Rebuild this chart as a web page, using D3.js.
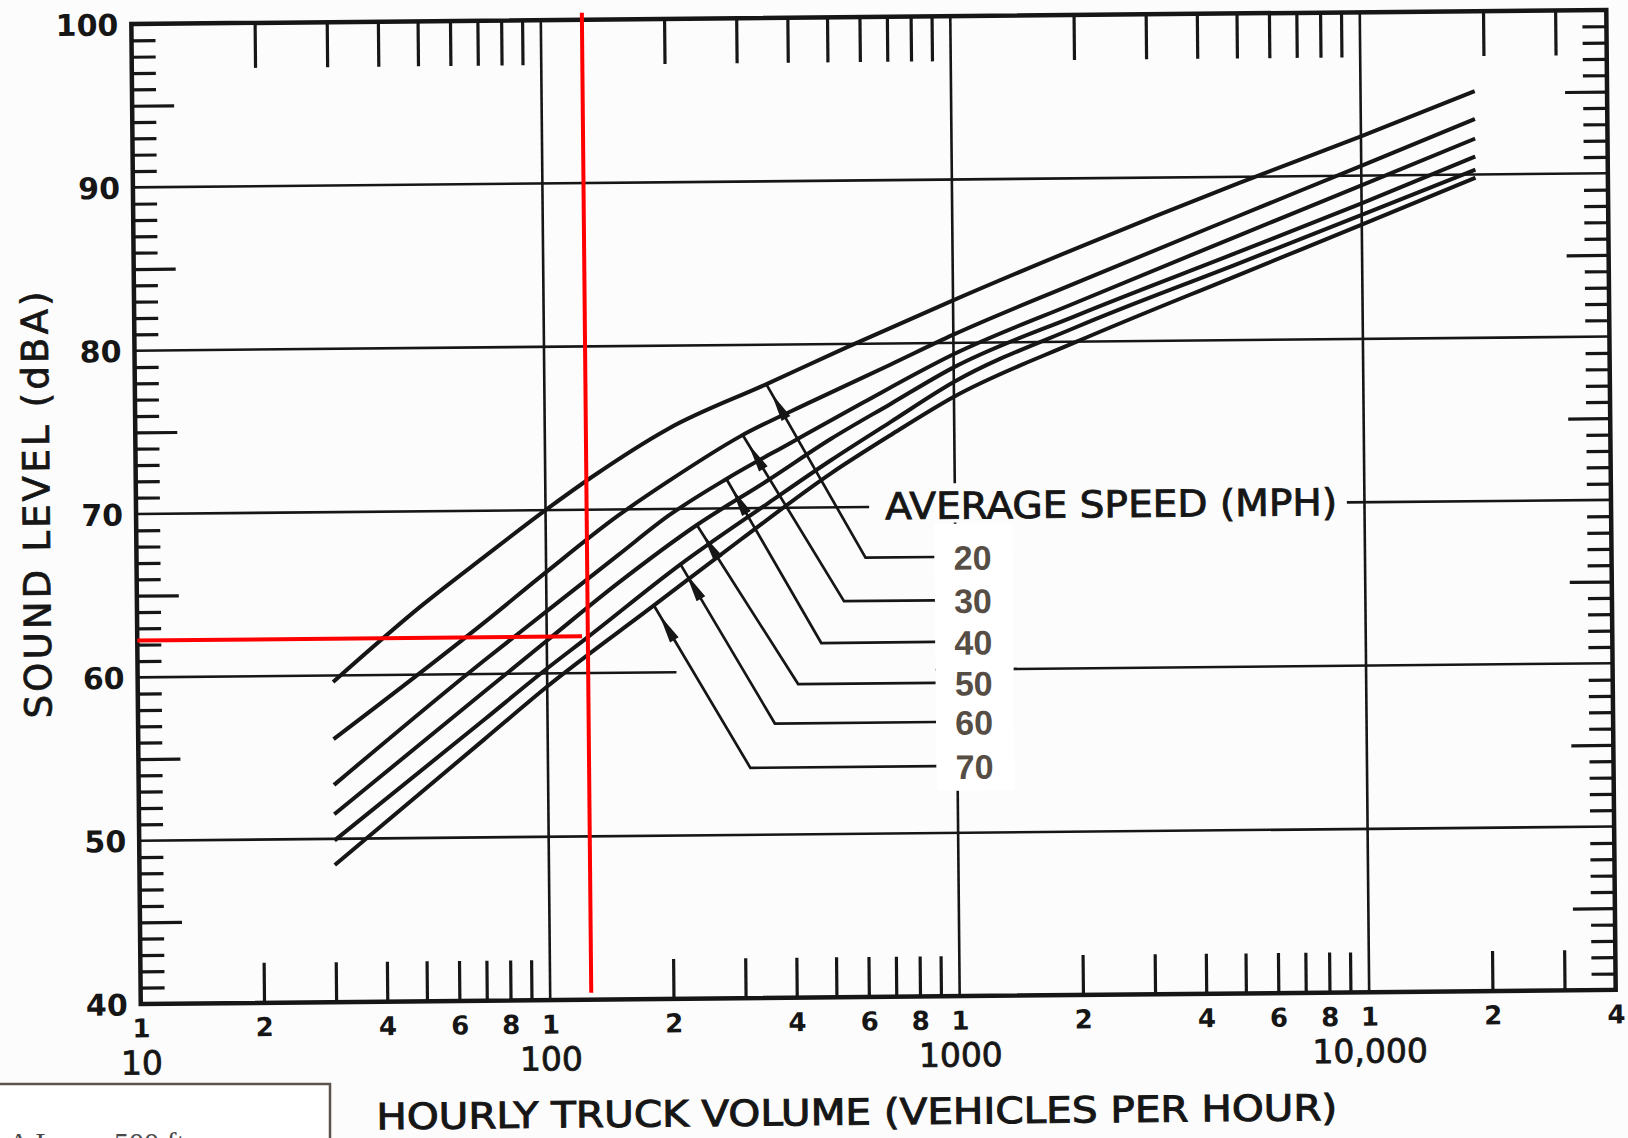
<!DOCTYPE html>
<html>
<head>
<meta charset="utf-8">
<script src="https://cdn.jsdelivr.net/npm/d3@7"></script>
<style>
  html, body { margin: 0; padding: 0; background: #fcfcfc; }
  svg { display: block; }
</style>
</head>
<body>
<svg id="chart" width="1628" height="1138"></svg>
<script>
// ---- data -----------------------------------------------------------------
// Average speed (mph) for each curve
const speeds = [20, 30, 40, 50, 60, 70];

// Sound level (dBA): [hourly truck volume, level]
const curve20 = [[30,59.6],[50,64.3],[70,67.1],[100,70.0],[130,72.0],[200,74.9],[350,77.6],[550,79.8],[1000,82.6],[2000,85.7],[5000,89.6],[10000,92.4],[19000,95.1]];
const curve30 = [[30,56.1],[70,63.1],[100,66.2],[150,69.6],[200,71.7],[300,74.4],[450,76.5],[700,78.7],[1000,80.5],[2000,83.6],[5000,87.6],[10000,90.6],[19000,93.4]];
const curve40 = [[30,53.3],[70,60.8],[100,63.8],[150,67.2],[200,69.6],[277,71.8],[400,74.0],[600,76.4],[1000,79.3],[2000,82.4],[5000,86.4],[10000,89.4],[19000,92.2]];
const curve50 = [[30,51.5],[70,58.9],[100,62.0],[150,65.5],[234,69.0],[350,71.7],[500,74.2],[700,76.3],[1000,78.5],[2000,81.6],[5000,85.4],[10000,88.3],[19000,91.1]];
const curve60 = [[30,49.9],[70,57.2],[100,60.3],[126,62.2],[213,66.6],[350,70.3],[500,72.9],[700,75.2],[1000,77.6],[2000,80.9],[5000,84.7],[10000,87.6],[19000,90.3]];
const curve70 = [[30,48.4],[70,56.0],[100,59.2],[183,64.1],[300,68.1],[500,72.1],[700,74.4],[1000,76.7],[2000,80.0],[5000,84.0],[10000,87.0],[19000,89.8]];
const curves = [curve20, curve30, curve40, curve50, curve60, curve70];

// Leader lines from each curve to its speed label: [volume, level]
const leaderStart  = [[348,77.6],[304,74.5],[277,71.8],[234,69.0],[213,66.6],[183,64.1]];
const leaderCorner = [[603,66.9],[533,64.25],[468,61.7],[410,59.2],[359,56.8],[312,54.1]];
const leaderEndVolume = 889;

// Axis ticks
const minorVolumes = [20,30,40,50,60,70,80,90, 200,300,400,500,600,700,800,900,
                      2000,3000,4000,5000,6000,7000,8000,9000, 20000,30000];
const decadeVolumes = [100, 1000, 10000];
const digitVolumes = [10,20,40,60,80, 100,200,400,600,800, 1000,2000,4000,6000,8000, 10000,20000,40000];
const digitLabels  = ["1","2","4","6","8","1","2","4","6","8","1","2","4","6","8","1","2","4"];
const decadeLabelVolumes = [10, 100, 1000, 10000];
const decadeLabels = ["10", "100", "1000", "10,000"];
const levelLabels = [40, 50, 60, 70, 80, 90, 100];
const levelGrid = [50, 60, 70, 80, 90];
const levelMinor = d3.range(41, 100).filter(v => v % 5 !== 0);
const levelMid = [45, 55, 65, 75, 85, 95];

// Gridlines that are interrupted around the legend
const grid60Segments = [[10, 207], [889, 40000]];
const grid70Segments = [[10, 617], [9060, 40000]];
const grid1000Segments = [[40, 69.0], [71.4, 100]];

// Reading marked in red
const readingVolume = 126;
const readingLevel = 62.25;
const readingEndVolume = 122;

// ---- drawing --------------------------------------------------------------
const W = 1628, H = 1138;
const ink = "#161616";
const fontNum = "'DejaVu Sans', 'Liberation Sans', sans-serif";

const x = d3.scaleLog().domain([10, 40000]).range([136, 1611]);
const y = d3.scaleLinear().domain([40, 100]).range([997, 17]);

const svg = d3.select("#chart");
svg.append("rect").attr("width", W).attr("height", H).attr("fill", "#fcfcfc");

// the whole sheet sits very slightly turned
const g = svg.append("g").attr("transform", "rotate(-0.55 870 505)");

// horizontal gridlines
const hSegs = [];
levelGrid.forEach(v => {
  const segs = v === 60 ? grid60Segments : v === 70 ? grid70Segments : [[10, 40000]];
  segs.forEach(s => hSegs.push({ level: v, from: s[0], to: s[1] }));
});
g.append("g").selectAll("line").data(hSegs).join("line")
  .attr("x1", d => x(d.from)).attr("x2", d => x(d.to))
  .attr("y1", d => y(d.level)).attr("y2", d => y(d.level))
  .attr("stroke", ink).attr("stroke-width", 2.6);

// vertical gridlines at decades
const vSegs = [];
decadeVolumes.forEach(v => {
  const segs = v === 1000 ? grid1000Segments : [[40, 100]];
  segs.forEach(s => vSegs.push({ vol: v, from: s[0], to: s[1] }));
});
g.append("g").selectAll("line").data(vSegs).join("line")
  .attr("x1", d => x(d.vol)).attr("x2", d => x(d.vol))
  .attr("y1", d => y(d.from)).attr("y2", d => y(d.to))
  .attr("stroke", ink).attr("stroke-width", 2.6);

// tick marks on all four sides
function styleTicks(sel) {
  sel.select(".domain").remove();
  sel.selectAll(".tick line").attr("stroke", ink).attr("stroke-width", 3.2);
  sel.selectAll(".tick text").remove();
}
g.append("g").attr("transform", `translate(0,${y(40)})`)
  .call(d3.axisBottom(x).tickValues(minorVolumes).tickSize(-40).tickSizeOuter(0).tickFormat(""))
  .call(styleTicks);
g.append("g").attr("transform", `translate(0,${y(100)})`)
  .call(d3.axisTop(x).tickValues(minorVolumes).tickSize(-45).tickSizeOuter(0).tickFormat(""))
  .call(styleTicks);
g.append("g").attr("transform", `translate(${x(10)},0)`)
  .call(d3.axisLeft(y).tickValues(levelMinor).tickSize(-24).tickSizeOuter(0).tickFormat(""))
  .call(styleTicks);
g.append("g").attr("transform", `translate(${x(10)},0)`)
  .call(d3.axisLeft(y).tickValues(levelMid).tickSize(-42).tickSizeOuter(0).tickFormat(""))
  .call(styleTicks);
g.append("g").attr("transform", `translate(${x(40000)},0)`)
  .call(d3.axisRight(y).tickValues(levelMinor).tickSize(-24).tickSizeOuter(0).tickFormat(""))
  .call(styleTicks);
g.append("g").attr("transform", `translate(${x(40000)},0)`)
  .call(d3.axisRight(y).tickValues(levelMid).tickSize(-42).tickSizeOuter(0).tickFormat(""))
  .call(styleTicks);

// frame
g.append("rect")
  .attr("x", x(10)).attr("y", y(100))
  .attr("width", x(40000) - x(10)).attr("height", y(40) - y(100))
  .attr("fill", "none").attr("stroke", ink).attr("stroke-width", 4.5);

// tick labels
function styleLabels(sel, size, weight) {
  sel.select(".domain").remove();
  sel.selectAll(".tick line").remove();
  sel.selectAll(".tick text")
    .attr("fill", ink)
    .attr("font-family", fontNum)
    .attr("font-weight", weight)
    .attr("font-size", size);
}
const digitMap = new Map(digitVolumes.map((v, i) => [v, digitLabels[i]]));
const decadeMap = new Map(decadeLabelVolumes.map((v, i) => [v, decadeLabels[i]]));

g.append("g").attr("transform", `translate(${x(10)},0)`)
  .call(d3.axisLeft(y).tickValues(levelLabels).tickSize(0).tickPadding(13).tickFormat(d => d))
  .call(sel => styleLabels(sel, 30, "bold"))
  .call(sel => sel.selectAll(".tick text").attr("dy", "0.36em"));

g.append("g").attr("transform", `translate(0,${y(40)})`)
  .call(d3.axisBottom(x).tickValues(digitVolumes).tickSize(0).tickPadding(15).tickFormat(d => digitMap.get(d)))
  .call(sel => styleLabels(sel, 26, "bold"));

g.append("g").attr("transform", `translate(0,${y(40)})`)
  .call(d3.axisBottom(x).tickValues(decadeLabelVolumes).tickSize(0).tickPadding(47).tickFormat(d => decadeMap.get(d)))
  .call(sel => styleLabels(sel, 33, "normal"))
  .call(sel => sel.selectAll(".tick text").attr("stroke", ink).attr("stroke-width", 0.8));

// speed curves
const line = d3.line().x(d => x(d[0])).y(d => y(d[1])).curve(d3.curveMonotoneX);
g.append("g").selectAll("path").data(curves).join("path")
  .attr("d", line)
  .attr("fill", "none").attr("stroke", ink)
  .attr("stroke-width", 4).attr("stroke-linejoin", "round");

// leader lines with arrowheads
const leaders = speeds.map((s, i) => ({
  speed: s,
  p0: [x(leaderStart[i][0]), y(leaderStart[i][1])],
  p1: [x(leaderCorner[i][0]), y(leaderCorner[i][1])],
  p2: [x(leaderEndVolume), y(leaderCorner[i][1])]
}));
const lg = g.append("g");
lg.selectAll("path").data(leaders).join("path")
  .attr("d", d => `M${d.p0[0]},${d.p0[1]}L${d.p1[0]},${d.p1[1]}L${d.p2[0]},${d.p2[1]}`)
  .attr("fill", "none").attr("stroke", ink).attr("stroke-width", 2.7)
  .attr("stroke-linejoin", "miter");
lg.selectAll("polygon").data(leaders).join("polygon")
  .attr("points", d => {
    const dx = d.p1[0] - d.p0[0], dy = d.p1[1] - d.p0[1];
    const len = Math.hypot(dx, dy), ux = dx / len, uy = dy / len;
    const tip = [d.p0[0] + ux * 11, d.p0[1] + uy * 11];
    const base = [d.p0[0] + ux * 40, d.p0[1] + uy * 40];
    const hw = 5;
    return [tip, [base[0] - uy * hw, base[1] + ux * hw], [base[0] + uy * hw, base[1] - ux * hw]]
      .map(p => p.join(",")).join(" ");
  })
  .attr("fill", ink);

// legend title on the 70 dBA line
g.append("text")
  .attr("x", x(675)).attr("y", y(70))
  .attr("dominant-baseline", "central")
  .attr("font-family", fontNum).attr("font-size", 37)
  .attr("stroke", ink).attr("stroke-width", 0.9)
  .attr("textLength", 452).attr("lengthAdjust", "spacingAndGlyphs")
  .attr("fill", ink)
  .text("AVERAGE SPEED (MPH)");

// speed labels on a white panel
const panelX = x(leaderEndVolume);
g.append("rect")
  .attr("x", panelX).attr("y", y(leaderCorner[0][1]) - 33)
  .attr("width", 78)
  .attr("height", y(leaderCorner[5][1]) - y(leaderCorner[0][1]) + 58)
  .attr("fill", "#ffffff");
g.append("g").selectAll("text").data(leaders).join("text")
  .attr("x", panelX + 38).attr("y", d => d.p2[1] + 1)
  .attr("text-anchor", "middle").attr("dominant-baseline", "central")
  .attr("font-family", "'Liberation Sans', Arial, sans-serif")
  .attr("font-weight", "bold").attr("font-size", 34)
  .attr("fill", "#564d45")
  .text(d => d.speed);

// axis titles
g.append("text")
  .attr("x", 851).attr("y", 1112)
  .attr("text-anchor", "middle").attr("dominant-baseline", "central")
  .attr("font-family", fontNum).attr("font-size", 36)
  .attr("stroke", ink).attr("stroke-width", 1)
  .attr("textLength", 961).attr("lengthAdjust", "spacingAndGlyphs")
  .attr("fill", ink)
  .text("HOURLY TRUCK VOLUME (VEHICLES PER HOUR)");
g.append("text")
  .attr("transform", "translate(37,497) rotate(-90)")
  .attr("text-anchor", "middle").attr("dominant-baseline", "central")
  .attr("font-family", fontNum).attr("font-size", 37)
  .attr("stroke", ink).attr("stroke-width", 0.8)
  .attr("textLength", 427).attr("lengthAdjust", "spacing")
  .attr("fill", ink)
  .text("SOUND LEVEL (dBA)");

// red reading lines
g.append("line")
  .attr("x1", x(readingVolume)).attr("x2", x(readingVolume))
  .attr("y1", y(100.43)).attr("y2", y(40.43))
  .attr("stroke", "#ff0000").attr("stroke-width", 4);
g.append("line")
  .attr("x1", x(10)).attr("x2", x(readingEndVolume))
  .attr("y1", y(readingLevel)).attr("y2", y(readingLevel))
  .attr("stroke", "#ff0000").attr("stroke-width", 4);

// note panel in the lower left corner
svg.append("rect")
  .attr("x", -3).attr("y", 1084).attr("width", 333).attr("height", 80)
  .attr("fill", "#ffffff").attr("stroke", "#5b534c").attr("stroke-width", 2.5);
svg.append("text")
  .attr("x", 8).attr("y", 1153)
  .attr("font-family", "'Liberation Serif', 'Times New Roman', serif")
  .attr("font-size", 30).attr("fill", "#4a4a4a")
  .text("A Leq = 500 ft");
</script>
</body>
</html>
